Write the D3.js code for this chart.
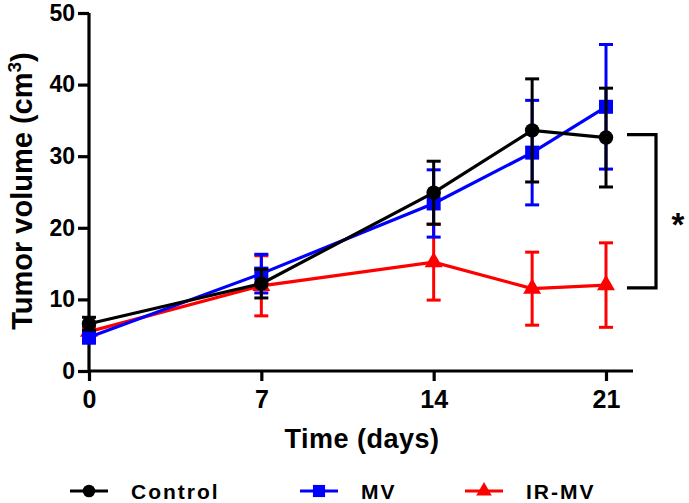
<!DOCTYPE html>
<html><head><meta charset="utf-8">
<script src="https://cdn.jsdelivr.net/npm/d3@7"></script>
<style>
html,body{margin:0;padding:0;background:#fff;}
svg{display:block;}
text{font-family:"Liberation Sans",Arial,Helvetica,sans-serif;font-weight:bold;fill:#000;}
</style></head>
<body>
<svg id="chart" width="689" height="503"></svg>
<script>
// ---- data ----
const days = [0, 7, 14, 18, 21];
const xTicks = [0, 7, 14, 21];
const yTicks = [0, 10, 20, 30, 40, 50];
const seriesNames = ["Control", "MV", "IR-MV"];
const controlMean = [6.6, 12.2, 24.9, 33.6, 32.6];
const controlErr  = [0.9, 2.0, 4.4, 7.2, 6.9];
const mvMean      = [4.7, 13.6, 23.4, 30.5, 36.9];
const mvErr       = [0.8, 2.7, 4.7, 7.3, 8.7];
const irmvMean    = [5.5, 11.9, 15.2, 11.5, 12.0];
const irmvErr     = [0.6, 4.2, 5.3, 5.1, 5.9];
const bracketRange = [11.6, 33.0];
const sigLabel = "*";

const colors = {"Control": "#000000", "MV": "#0000ff", "IR-MV": "#ff0000"};
const symbols = {"Control": d3.symbolCircle, "MV": d3.symbolSquare, "IR-MV": d3.symbolTriangle};
const symSize = {"Control": 165, "MV": 196, "IR-MV": 140};

const series = [
  {name: "IR-MV", mean: irmvMean, err: irmvErr},
  {name: "MV", mean: mvMean, err: mvErr},
  {name: "Control", mean: controlMean, err: controlErr}
];

const svg = d3.select("#chart");
const x = d3.scaleLinear().domain([0, 21]).range([89, 606]);
const y = d3.scaleLinear().domain([0, 50]).range([371, 13]);

// axes
const yAxis = svg.append("g").attr("transform", "translate(89,0)")
  .call(d3.axisLeft(y).tickValues(yTicks).tickSize(11).tickPadding(3).tickFormat(d3.format("d")));
yAxis.select(".domain").attr("d", `M0,${y(50)}V${y(0)}`);
const xAxis = svg.append("g").attr("transform", "translate(0,371)")
  .call(d3.axisBottom(x).tickValues(xTicks).tickSize(10).tickPadding(9).tickFormat(d3.format("d")));
xAxis.select(".domain").attr("d", `M${x(0)},0H633`);
svg.selectAll(".domain").attr("stroke", "#000").attr("stroke-width", 3.2);
svg.selectAll(".tick line").attr("stroke", "#000").attr("stroke-width", 3.2);
yAxis.selectAll(".tick text").attr("font-size", 23).attr("font-family", "Liberation Sans, Arial, sans-serif").attr("font-weight", "bold").attr("fill", "#000");
xAxis.selectAll(".tick text").attr("font-size", 25).attr("font-family", "Liberation Sans, Arial, sans-serif").attr("font-weight", "bold").attr("fill", "#000");

// series
const line = d3.line().x(d => x(d.day)).y(d => y(d.v));
series.forEach(s => {
  const pts = days.map((d, i) => ({day: d, v: s.mean[i], e: s.err[i]}));
  const g = svg.append("g");
  const c = colors[s.name];
  // error bars
  pts.forEach(p => {
    g.append("line").attr("x1", x(p.day)).attr("x2", x(p.day))
      .attr("y1", y(p.v + p.e)).attr("y2", y(p.v - p.e))
      .attr("stroke", c).attr("stroke-width", 3);
    [p.v + p.e, p.v - p.e].forEach(v => {
      g.append("line").attr("x1", x(p.day) - 7).attr("x2", x(p.day) + 7)
        .attr("y1", y(v)).attr("y2", y(v)).attr("stroke", c).attr("stroke-width", 3);
    });
  });
  g.append("path").datum(pts).attr("d", line).attr("fill", "none")
    .attr("stroke", c).attr("stroke-width", 3.2);
  g.selectAll(".m").data(pts).enter().append("path")
    .attr("transform", p => `translate(${x(p.day)},${y(p.v)})`)
    .attr("d", d3.symbol().type(symbols[s.name]).size(symSize[s.name]))
    .attr("fill", c);
});

// significance bracket
const bx0 = x(21) + 21, bx1 = x(21) + 50;
svg.append("path")
  .attr("d", `M${bx0},${y(bracketRange[1])}H${bx1}V${y(bracketRange[0])}H${bx0}`)
  .attr("fill", "none").attr("stroke", "#000").attr("stroke-width", 3.2);
svg.append("text").attr("x", 678).attr("y", 236).attr("text-anchor", "middle")
  .attr("font-size", 33).text(sigLabel);

// axis titles
svg.append("text").attr("x", 362).attr("y", 448).attr("text-anchor", "middle")
  .attr("font-size", 27).attr("letter-spacing", 0.5).text("Time (days)");
const yt = svg.append("text").attr("transform", "translate(32,191) rotate(-90)")
  .attr("text-anchor", "middle").attr("font-size", 29);
yt.append("tspan").text("Tumor volume (cm");
yt.append("tspan").attr("dy", -11).attr("font-size", 19).text("3");
yt.append("tspan").attr("dy", 11).text(")");

// legend
const legX = {"Control": 70, "MV": 300, "IR-MV": 465};
seriesNames.forEach(n => {
  const lx = legX[n], ly = 491;
  const g = svg.append("g");
  g.append("line").attr("x1", lx).attr("x2", lx + 38).attr("y1", ly).attr("y2", ly)
    .attr("stroke", colors[n]).attr("stroke-width", 3);
  g.append("path").attr("transform", `translate(${lx + 19},${ly})`)
    .attr("d", d3.symbol().type(symbols[n]).size(symSize[n] * 0.75)).attr("fill", colors[n]);
  g.append("text").attr("x", lx + 61).attr("y", 499).attr("font-size", 21)
    .attr("letter-spacing", 2).text(n);
});
</script>
</body></html>
